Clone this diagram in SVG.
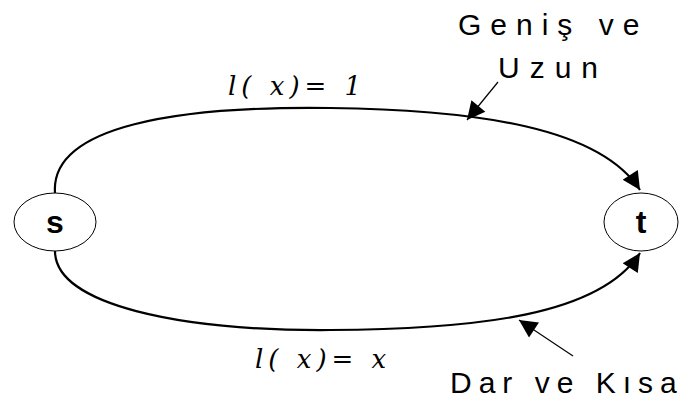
<svg xmlns="http://www.w3.org/2000/svg" width="690" height="404" viewBox="0 0 690 404">
<style>
.node{fill:#fff;stroke:#000;stroke-width:1}
.nl{font-family:"Liberation Sans",Arial,sans-serif;font-weight:bold;font-size:32px;text-anchor:middle}
.edge{fill:none;stroke:#000;stroke-width:2.2}
.ptr{fill:none;stroke:#000;stroke-width:1.2}
.lab{font-family:"Liberation Sans",Arial,sans-serif;font-size:30px;letter-spacing:9px}
.f{font-family:"DejaVu Serif","Liberation Serif",serif;font-style:italic;font-size:26px;letter-spacing:5px}
</style>
<defs>
<marker id="ah2" viewBox="0 0 10 10" refX="10" refY="5" markerWidth="22" markerHeight="18" markerUnits="userSpaceOnUse" orient="auto"><path d="M0,0 L10,5 L0,10 z"/></marker>
</defs>
<g id="connectors">
<path class="edge" d="M55,193 C50,125 180,106 330,108 C480,110 600,128 640,190" marker-end="url(#ah2)"/>
<path class="edge" d="M55,251 C55,305 180,331 330,330 C480,329 600,315 640,253" marker-end="url(#ah2)"/>
<line class="ptr" x1="498" y1="82" x2="467" y2="120" marker-end="url(#ah2)"/>
<line class="ptr" x1="573" y1="356" x2="519" y2="320" marker-end="url(#ah2)"/>
</g>
<g id="s"><ellipse class="node" cx="55" cy="222" rx="41" ry="29"/><text class="nl" x="55" y="233">s</text></g>
<g id="t"><ellipse class="node" cx="641" cy="222" rx="37" ry="29"/><text class="nl" x="641" y="233">t</text></g>
<g id="labels">
<text class="f" x="228" y="95">l( x)= 1</text>
<text class="f" x="255" y="368">l( x)= x</text>
<text class="lab" x="458" y="35">Geniş ve</text>
<text class="lab" x="498" y="78" style="letter-spacing:10px">Uzun</text>
<text class="lab" x="450" y="393" style="letter-spacing:7px">Dar ve Kısa</text>
</g>
</svg>
